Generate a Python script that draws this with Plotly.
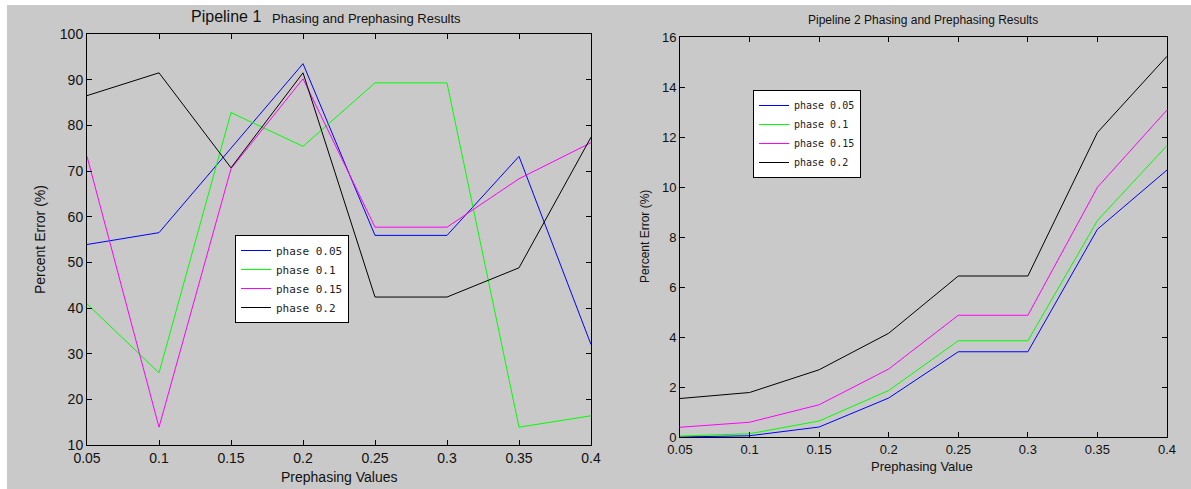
import plotly.graph_objects as go

prephasing = [0.05, 0.1, 0.15, 0.2, 0.25, 0.3, 0.35, 0.4]
x_tick_labels = ["0.05", "0.1", "0.15", "0.2", "0.25", "0.3", "0.35", "0.4"]
series_names = ["phase 0.05", "phase 0.1", "phase 0.15", "phase 0.2"]
series_colors = ["#0000ff", "#00ff00", "#ff00ff", "#000000"]

# Pipeline 1
p1_phase_005 = [53.9, 56.5, 75.0, 93.5, 55.9, 55.9, 73.2, 32.0]
p1_phase_010 = [40.9, 25.8, 82.8, 75.4, 89.3, 89.3, 13.9, 16.4]
p1_phase_015 = [73.2, 13.9, 70.5, 90.2, 57.7, 57.7, 68.3, 76.2]
p1_phase_020 = [86.5, 91.5, 70.7, 91.5, 42.4, 42.4, 48.8, 77.4]

# Pipeline 2
p2_phase_005 = [0.0, 0.05, 0.40, 1.56, 3.41, 3.41, 8.31, 10.68]
p2_phase_010 = [0.04, 0.13, 0.64, 1.86, 3.85, 3.85, 8.66, 11.66]
p2_phase_015 = [0.39, 0.59, 1.29, 2.72, 4.87, 4.87, 9.99, 13.08]
p2_phase_020 = [1.54, 1.78, 2.69, 4.15, 6.44, 6.44, 12.18, 15.23]

W, H = 1191, 489
def px(x):
    return x / W
def py(y):
    return 1 - y / H

fig = go.Figure()
p1 = [p1_phase_005, p1_phase_010, p1_phase_015, p1_phase_020]
p2 = [p2_phase_005, p2_phase_010, p2_phase_015, p2_phase_020]
for name, color, vals in zip(series_names, series_colors, p1):
    fig.add_trace(go.Scatter(x=prephasing, y=vals, mode="lines", name=name,
                             line=dict(color=color, width=1),
                             xaxis="x", yaxis="y", legend="legend"))
for name, color, vals in zip(series_names, series_colors, p2):
    fig.add_trace(go.Scatter(x=prephasing, y=vals, mode="lines", name=name,
                             line=dict(color=color, width=1),
                             xaxis="x2", yaxis="y2", legend="legend2"))

axis_common = dict(showline=True, linecolor="black", linewidth=1, mirror="ticks",
                   ticks="inside", ticklen=5, tickcolor="black", showgrid=False,
                   zeroline=False, automargin=False)
FONT = "Liberation Sans, Arial, sans-serif"
tick_font1 = dict(family=FONT, size=14, color="#111111")
tick_font2 = dict(family=FONT, size=13, color="#111111")

def label(text, x, y, size, angle=0, anchor="center"):
    return dict(text=text, x=px(x), y=py(y), xref="paper", yref="paper",
                showarrow=False, textangle=angle, xanchor=anchor, yanchor="middle",
                font=dict(family=FONT, size=size, color="#111111"))

fig.update_layout(
    width=W, height=H, autosize=False,
    margin=dict(l=0, r=0, t=0, b=0, pad=0, autoexpand=False),
    paper_bgcolor="white",
    plot_bgcolor="white",
    xaxis=dict(domain=[px(87), px(591)], range=[0.05, 0.4], anchor="y",
               tickvals=prephasing, ticktext=x_tick_labels, tickfont=tick_font1,
               **axis_common),
    yaxis=dict(domain=[py(445), py(34)], range=[10, 100], anchor="x",
               tickvals=list(range(10, 101, 10)), tickfont=tick_font1, **axis_common),
    xaxis2=dict(domain=[px(680), px(1167)], range=[0.05, 0.4], anchor="y2",
                tickvals=prephasing, ticktext=x_tick_labels, tickfont=tick_font2,
                **axis_common),
    yaxis2=dict(domain=[py(437), py(37)], range=[0, 16], anchor="x2",
                tickvals=list(range(0, 17, 2)), tickfont=tick_font2, **axis_common),
    legend=dict(x=px(235), y=py(235), xanchor="left", yanchor="top",
                bgcolor="white", bordercolor="black", borderwidth=1,
                font=dict(family="DejaVu Sans Mono", size=11, color="#222222"),
                itemwidth=30, tracegroupgap=0),
    legend2=dict(x=px(753), y=py(90), xanchor="left", yanchor="top",
                 bgcolor="white", bordercolor="black", borderwidth=1,
                 font=dict(family="DejaVu Sans Mono", size=10, color="#222222"),
                 itemwidth=30, tracegroupgap=0),
    shapes=[dict(type="rect", xref="paper", yref="paper", x0=px(7), x1=1,
                 y0=0, y1=py(5), fillcolor="#c9c9c9", line=dict(width=0),
                 layer="below")],
    annotations=[
        label("Pipeline 1", 263, 17, 16, anchor="right"),
        label("Phasing and Prephasing Results", 270, 18, 13, anchor="left"),
        label("Pipeline 2 Phasing and Prephasing Results", 923, 20, 12),
        label("Prephasing Values", 339, 477, 14),
        label("Percent Error (%)", 40, 240, 14, angle=-90),
        label("Prephasing Value", 922, 466, 13),
        label("Percent Error (%)", 645, 237, 12, angle=-90),
    ],
)

fig.write_html(
    "out.html",
    post_script=(
        "document.documentElement.style.margin='0';"
        "document.body.style.margin='0';"
        "document.documentElement.style.overflow='hidden';"
        "document.body.style.overflow='hidden';"
    ),
)
